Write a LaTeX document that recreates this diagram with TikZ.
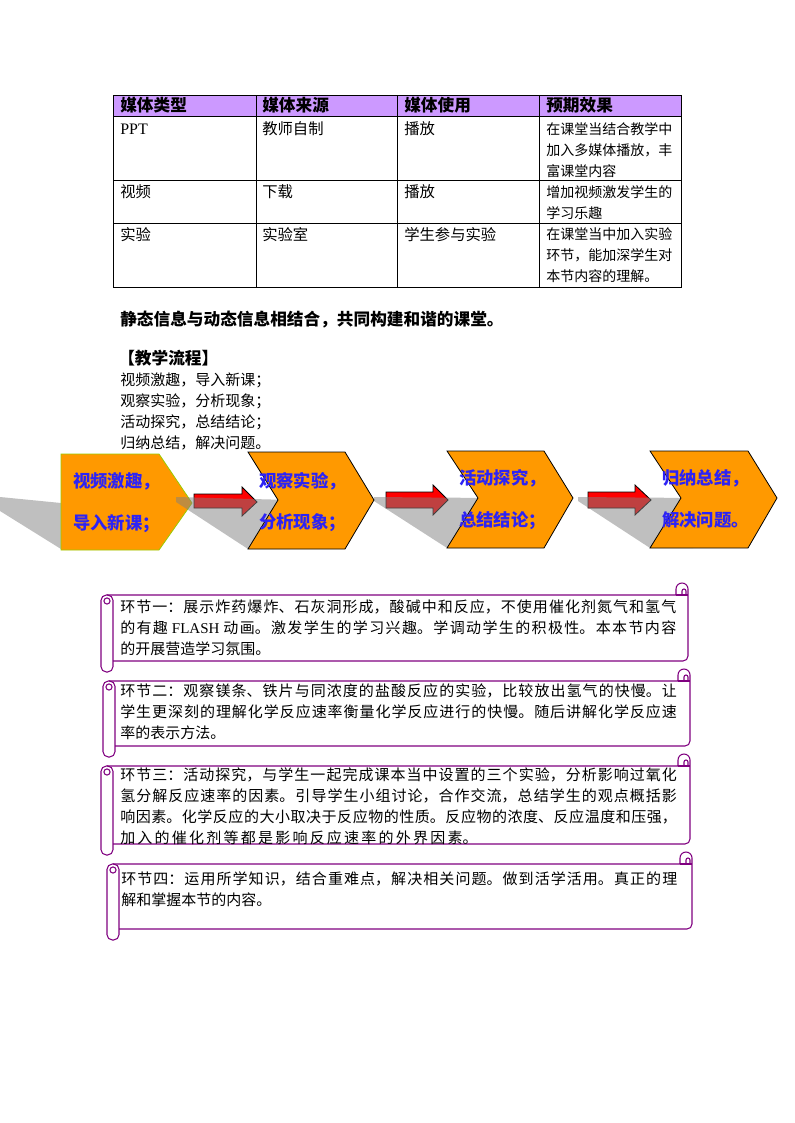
\documentclass[tikz,border=0pt]{standalone}
\usepackage{fontspec}
\setmainfont{Noto Sans CJK SC}
\newfontfamily\latinserif{Liberation Serif}
\XeTeXlinebreaklocale "zh"
\XeTeXlinebreakskip=0pt plus 3pt
\definecolor{hdr}{RGB}{204,153,255}
\definecolor{orng}{RGB}{255,153,0}
\definecolor{boxgreen}{RGB}{153,204,0}
\definecolor{chevblue}{RGB}{45,35,245}
\definecolor{scrollpurple}{RGB}{128,0,128}
\definecolor{shadowgray}{RGB}{128,128,128}
\newcommand\scrollfont{\fontsize{11.25pt}{15.75pt}\selectfont}
\newcommand\cellfont{\fontsize{11.5pt}{15.75pt}\selectfont}
\newcommand\smallcellfont{\fontsize{10.5pt}{15.75pt}\selectfont}
\newcommand\hdrfont{\fontsize{12.5pt}{16pt}\selectfont\bfseries}
\newcommand\chevfont{\fontsize{13pt}{16pt}\selectfont\bfseries}
\tikzset{
  tline/.style={line width=0.75pt, draw=black},
  txt/.style={anchor=base west, inner sep=0pt},
  jl/.style={anchor=base west, inner sep=0pt, align=justify, font=\scrollfont},
  chevtxt/.style={anchor=base west, inner sep=0pt, font=\chevfont, text=chevblue},
  chevbox/.style={fill=orng, draw=black, line width=0.6pt},
  redarrow/.style={fill=red, draw=black, line width=0.6pt},
  shade/.style={fill=shadowgray, fill opacity=0.5},
  scrollline/.style={draw=scrollpurple, line width=0.8pt}
}
\newcommand\jline[4]{\node[jl, text width=#3] (#1) at #2 {\parfillskip=0pt\relax #4\par};}
\newcommand\scrollshape[6]{% xl xr ytt yt yb ybb
  \draw[scrollline] ({#1+6},#4) -- ({#2-12},#4) -- ({#2-12},{#3+6}) arc[start angle=180,end angle=0,radius=4.5pt] -- ({#2},{#5-5}) arc[start angle=0,end angle=-90,radius=3.75pt] -- ({#1+12},#5);
  \draw[scrollline] ({#2-12},#4) -- ({#2},#4);
  \draw[scrollline] ({#2-6},#4) -- ({#2-6},{#3+8}) arc[start angle=180,end angle=0,radius=1.5pt] -- ({#2-2},#4);
  \draw[scrollline, rounded corners=4pt] (#1,#4) rectangle ({#1+12},#6);
  \draw[scrollline] ({#1+6},{#4+6}) circle[radius=2.3pt];
}
\begin{document}
\begin{tikzpicture}[x=0.75pt,y=-0.75pt]
\fill[white] (0,0) rectangle (794,1123);
\useasboundingbox (0,0) rectangle (794,1123);

% ---------- table ----------
\fill[hdr] (113,96) rectangle (681,117);
\draw[tline] (113,96) rectangle (681,287);
\foreach \y in {117,181,224} \draw[tline] (113,\y) -- (681,\y);
\foreach \x in {256,397,539} \draw[tline] (\x,96) -- (\x,287);

\node[txt, font=\hdrfont] (h1) at (120,112) {媒体类型};
\node[txt, font=\hdrfont] (h2) at (262,112) {媒体来源};
\node[txt, font=\hdrfont] (h3) at (404,112) {媒体使用};
\node[txt, font=\hdrfont] (h4) at (546,112) {预期效果};

\node[txt, font=\fontsize{12pt}{14pt}\latinserif] (c11) at (120,134.5) {PPT};
\node[txt, font=\cellfont] (c12) at (262,135) {教师自制};
\node[txt, font=\cellfont] (c13) at (404,135) {播放};
\node[txt, font=\smallcellfont] (c14a) at (546,134.3) {在课堂当结合教学中};
\node[txt, font=\smallcellfont] (c14b) at (546,155.3) {加入多媒体播放，丰};
\node[txt, font=\smallcellfont] (c14c) at (546,176.3) {富课堂内容};

\node[txt, font=\cellfont] (c21) at (120,198) {视频};
\node[txt, font=\cellfont] (c22) at (262,198) {下载};
\node[txt, font=\cellfont] (c23) at (404,198) {播放};
\node[txt, font=\smallcellfont] (c24a) at (546,197.3) {增加视频激发学生的};
\node[txt, font=\smallcellfont] (c24b) at (546,218.3) {学习乐趣};

\node[txt, font=\cellfont] (c31) at (120,240) {实验};
\node[txt, font=\cellfont] (c32) at (262,240) {实验室};
\node[txt, font=\cellfont] (c33) at (404,240) {学生参与实验};
\node[txt, font=\smallcellfont] (c34a) at (546,239.3) {在课堂当中加入实验};
\node[txt, font=\smallcellfont] (c34b) at (546,260.3) {环节，能加深学生对};
\node[txt, font=\smallcellfont] (c34c) at (546,281.3) {本节内容的理解。};

% ---------- paragraphs ----------
\node[txt, font=\hdrfont] (summary) at (120,325.3) {静态信息与动态信息相结合，共同构建和谐的课堂。};
\node[txt, font=\hdrfont] (flowtitle) at (118,364.3) {【教学流程】};
\node[txt, font=\scrollfont] (fl1) at (120,385.7) {视频激趣，导入新课；};
\node[txt, font=\scrollfont] (fl2) at (120,406.7) {观察实验，分析现象；};
\node[txt, font=\scrollfont] (fl3) at (120,427.7) {活动探究，总结结论；};
\node[txt, font=\scrollfont] (fl4) at (120,448.7) {归纳总结，解决问题。};

% ---------- flow chevrons ----------
\fill[shade] (0,497) -- (61,503) -- (61,549) -- (0,511) -- cycle;
\draw[fill=orng, draw=boxgreen, line width=0.6pt] (61,454) -- (159,454) -- (192,503) -- (159,550) -- (61,550) -- cycle;

\draw[redarrow] (194,494) -- (242,494) -- (242,487) -- (257,502) -- (242,516) -- (242,508) -- (194,508) -- cycle;
\draw[redarrow] (386,492) -- (433,492) -- (433,485) -- (448,500) -- (433,515) -- (433,508) -- (386,508) -- cycle;
\draw[redarrow] (588,492) -- (635,492) -- (635,485) -- (651,500) -- (635,515) -- (635,508) -- (588,508) -- cycle;

\fill[shade] (176,497) -- (290,500) -- (290,549) -- (248,549) -- (176,502) -- cycle;
\fill[shade] (374,497) -- (490,498) -- (490,548) -- (447,548) -- (374,501) -- cycle;
\fill[shade] (578,497) -- (693,498) -- (693,548) -- (650,548) -- (578,501) -- cycle;

\draw[chevbox] (248,452) -- (345,452) -- (374,500) -- (345,549) -- (248,549) -- (278,500) -- cycle;
\draw[chevbox] (447,451) -- (544,451) -- (573,498) -- (544,548) -- (447,548) -- (478,498) -- cycle;
\draw[chevbox] (650,451) -- (748,451) -- (777,498) -- (748,548) -- (650,548) -- (681,498) -- cycle;

\node[chevtxt] (t1a) at (73,487.6) {视频激趣，};
\node[chevtxt] (t1b) at (73,529.6) {导入新课；};
\node[chevtxt] (t2a) at (259,487.6) {观察实验，};
\node[chevtxt] (t2b) at (259,528.6) {分析现象；};
\node[chevtxt] (t3a) at (459,484.6) {活动探究，};
\node[chevtxt] (t3b) at (459,526.6) {总结结论；};
\node[chevtxt] (t4a) at (662,484.6) {归纳总结，};
\node[chevtxt] (t4b) at (662,526.6) {解决问题。};

% ---------- scrolls ----------
\scrollshape{101}{688}{583}{595}{661}{672}
\scrollshape{103}{690}{669}{681}{746}{757}
\scrollshape{101}{690}{754}{766}{844}{855}
\scrollshape{107}{692}{852}{864}{929}{940}

\jline{s1a}{(120,612.7)}{417pt}{环节一：展示炸药爆炸、石灰洞形成，酸碱中和反应，不使用催化剂氮气和氢气}
\jline{s1b}{(120,633.7)}{417pt}{的有趣 {\latinserif FLASH} 动画。激发学生的学习兴趣。学调动学生的积极性。本本节内容}
\node[txt, font=\scrollfont] (s1c) at (120,654.7) {的开展营造学习氛围。};

\jline{s2a}{(120,696.7)}{417.5pt}{环节二：观察镁条、铁片与同浓度的盐酸反应的实验，比较放出氢气的快慢。让}
\jline{s2b}{(120,717.7)}{417.5pt}{学生更深刻的理解化学反应速率衡量化学反应进行的快慢。随后讲解化学反应速}
\node[txt, font=\scrollfont] (s2c) at (120,738.7) {率的表示方法。};

\jline{s3a}{(120,780.7)}{417.5pt}{环节三：活动探究，与学生一起完成课本当中设置的三个实验，分析影响过氧化}
\jline{s3b}{(120,801.7)}{417.5pt}{氢分解反应速率的因素。引导学生小组讨论，合作交流，总结学生的观点概括影}
\jline{s3c}{(120,822.7)}{417.5pt}{响因素。化学反应的大小取决于反应物的性质。反应物的浓度、反应温度和压强，}
\jline{s3d}{(120,843.7)}{268pt}{加入的催化剂等都是影响反应速率的外界因素。}

\jline{s4a}{(121,884.7)}{417pt}{环节四：运用所学知识，结合重难点，解决相关问题。做到活学活用。真正的理}
\node[txt, font=\scrollfont] (s4b) at (121,905.7) {解和掌握本节的内容。};
\end{tikzpicture}
\end{document}
